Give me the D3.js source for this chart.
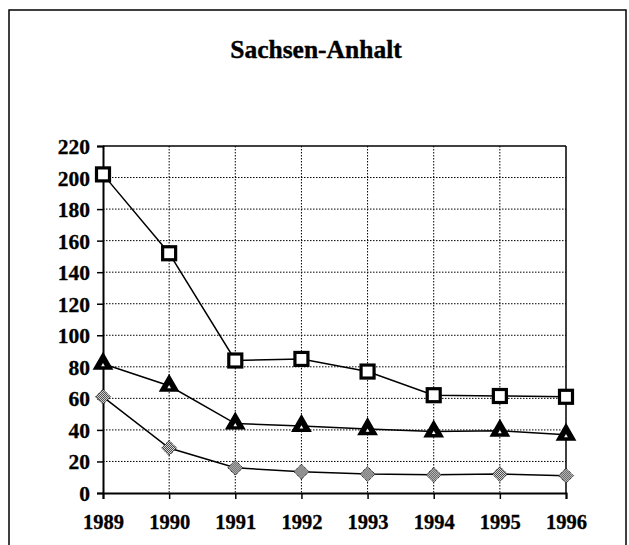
<!DOCTYPE html>
<html><head><meta charset="utf-8">
<script src="https://cdn.jsdelivr.net/npm/d3@7"></script>
<style>body{margin:0;background:#fff}svg{display:block}</style>
</head><body>
<script>
const years = ["1989","1990","1991","1992","1993","1994","1995","1996"];
const seriesSquare = [202, 152, 84, 85, 77, 62, 61.5, 61];
const seriesTriangle = [82, 68, 44, 42.5, 40.5, 39, 39.5, 37];
const seriesDiamond = [61, 28.5, 16, 13.5, 12, 11.5, 12, 11];
const yTicks = [0,20,40,60,80,100,120,140,160,180,200,220];
const title = "Sachsen-Anhalt";

const W = 629, H = 545;
const svg = d3.select("body").append("svg").attr("width", W).attr("height", H);
const font = "'Liberation Serif','Times New Roman',serif";

const defs = svg.append("defs");
const pat = defs.append("pattern").attr("id","dots").attr("patternUnits","userSpaceOnUse")
  .attr("width",2).attr("height",2);
pat.append("rect").attr("width",2).attr("height",2).attr("fill","#fff");
pat.append("rect").attr("width",1).attr("height",1).attr("fill","#222");
pat.append("rect").attr("x",1).attr("y",1).attr("width",1).attr("height",1).attr("fill","#222");

// outer frame
svg.append("rect").attr("x",9).attr("y",10).attr("width",617).attr("height",560)
  .attr("fill","none").attr("stroke","#000").attr("stroke-width",1.5);

svg.append("text").attr("x",316).attr("y",58).attr("text-anchor","middle")
  .attr("font-family",font).attr("font-weight","bold").attr("font-size",25.5)
  .attr("stroke","#000").attr("stroke-width",0.4).text(title);

const L = 103, R = 566, T = 146, B = 493;
const x = d3.scalePoint().domain(years).range([L, R]);
const y = d3.scaleLinear().domain([0,220]).range([B, T]);

// gridlines
const g = svg.append("g");
g.selectAll("line.h").data(yTicks.filter(v=>v>0 && v<220)).join("line")
  .attr("x1",L).attr("x2",R).attr("y1",d=>y(d)).attr("y2",d=>y(d))
  .attr("stroke","#000").attr("stroke-width",1).attr("stroke-dasharray","1.5,1.5");
g.selectAll("line.v").data(years.slice(1,-1)).join("line")
  .attr("y1",T).attr("y2",B).attr("x1",d=>x(d)).attr("x2",d=>x(d))
  .attr("stroke","#000").attr("stroke-width",1).attr("stroke-dasharray","1.5,1.5");

// frame top/right
svg.append("line").attr("x1",L).attr("x2",R).attr("y1",T).attr("y2",T).attr("stroke","#000").attr("stroke-width",1.5);
svg.append("line").attr("x1",R).attr("x2",R).attr("y1",T).attr("y2",B).attr("stroke","#000").attr("stroke-width",1.5);

// axes
const yAxis = d3.axisLeft(y).tickValues(yTicks).tickSize(6).tickPadding(7);
const ya = svg.append("g").attr("transform",`translate(${L},0)`).call(yAxis);
const xAxis = d3.axisBottom(x).tickSize(6).tickPadding(13);
const xa = svg.append("g").attr("transform",`translate(0,${B})`).call(xAxis);
[ya, xa].forEach(a => {
  a.select(".domain").attr("stroke","#000").attr("stroke-width",2);
  a.selectAll(".tick line").attr("stroke","#000").attr("stroke-width",1.5);
  a.selectAll("text").attr("font-family",font).attr("font-weight","bold")
    .attr("font-size",20.5).attr("fill","#000").attr("stroke","#000").attr("stroke-width",0.3);
});
ya.selectAll("text").attr("dy","0.35em").attr("font-size",21.5);
xa.selectAll("text").attr("dy","0.85em");

const line = d3.line().x((d,i)=>x(years[i])).y(d=>y(d));
[seriesSquare, seriesTriangle, seriesDiamond].forEach(s => {
  svg.append("path").datum(s).attr("d",line).attr("fill","none")
    .attr("stroke","#000").attr("stroke-width",1.5);
});

// markers
svg.selectAll("rect.sq").data(seriesSquare).join("rect")
  .attr("x",(d,i)=>x(years[i])-6.5).attr("y",d=>y(d)-6.5)
  .attr("width",13).attr("height",13).attr("fill","#fff")
  .attr("stroke","#000").attr("stroke-width",3.2);

const tri = d3.symbol().type(d3.symbolTriangle).size(125);
svg.selectAll("path.tri").data(seriesTriangle).join("path")
  .attr("transform",(d,i)=>`translate(${x(years[i])},${y(d)})`)
  .attr("d",tri).attr("fill","#000").attr("stroke","#000").attr("stroke-width",2.2);
const triIn = d3.symbol().type(d3.symbolTriangle).size(6);
svg.selectAll("path.tri2").data(seriesTriangle).join("path")
  .attr("transform",(d,i)=>`translate(${x(years[i])},${y(d)+1.5})`)
  .attr("d",triIn).attr("fill","#fff");

const diaPath = "M0,-7.5L7.5,0L0,7.5L-7.5,0Z";
svg.selectAll("path.dia").data(seriesDiamond).join("path")
  .attr("transform",(d,i)=>`translate(${x(years[i])},${y(d)})`)
  .attr("d",diaPath).attr("fill","url(#dots)").attr("stroke","#000")
  .attr("stroke-width",1).attr("stroke-dasharray","1,1");
</script>
</body></html>
